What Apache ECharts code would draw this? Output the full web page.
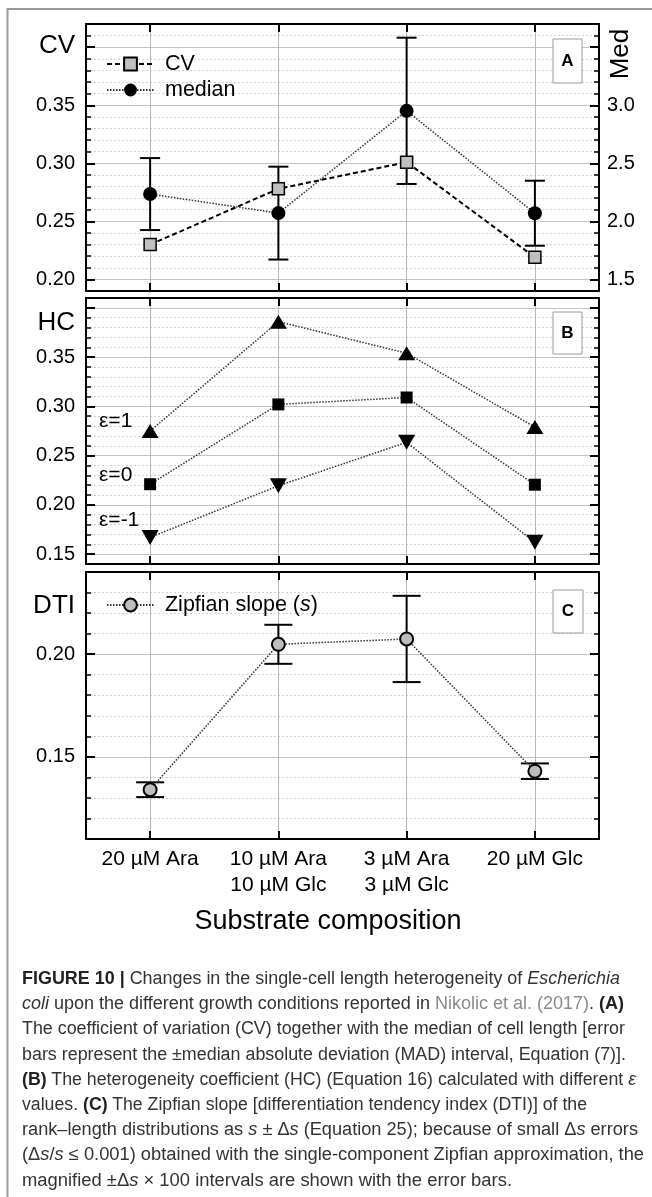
<!DOCTYPE html>
<html><head><meta charset="utf-8">
<script src="https://cdn.jsdelivr.net/npm/echarts@6/dist/echarts.min.js"></script>
<style>
html,body{margin:0;padding:0;background:#fff;}
#chart{position:absolute;left:0;top:0;width:652px;height:1197px;}
#caption{position:absolute;left:22px;top:966px;font-family:"Liberation Sans",Arial,sans-serif;font-size:18px;line-height:25.2px;color:#333;white-space:nowrap;}
#caption .l{width:max-content;transform-origin:0 50%;}
#caption b{color:#222;}
#caption .g{color:#8a8a8a;}
</style></head><body>
<div id="chart"></div>
<div id="caption">
<div class="l"><b>FIGURE 10 |</b> Changes in the single-cell length heterogeneity of <i>Escherichia</i></div>
<div class="l"><i>coli</i> upon the different growth conditions reported in <span class="g">Nikolic et al. (2017)</span>. <b>(A)</b></div>
<div class="l">The coefficient of variation (CV) together with the median of cell length [error</div>
<div class="l">bars represent the ±median absolute deviation (MAD) interval, Equation (7)].</div>
<div class="l"><b>(B)</b> The heterogeneity coefficient (HC) (Equation 16) calculated with different <i>ε</i></div>
<div class="l">values. <b>(C)</b> The Zipfian slope [differentiation tendency index (DTI)] of the</div>
<div class="l">rank–length distributions as <i>s</i> ± Δ<i>s</i> (Equation 25); because of small Δ<i>s</i> errors</div>
<div class="l">(Δ<i>s</i>/<i>s</i> ≤ 0.001) obtained with the single-component Zipfian approximation, the</div>
<div class="l">magnified ±Δ<i>s</i> × 100 intervals are shown with the error bars.</div>
</div>
<script>
// ---- data ----
const categories = ['20 µM Ara', '10 µM Ara\n10 µM Glc', '3 µM Ara\n3 µM Glc', '20 µM Glc'];
const cvValues = [0.230, 0.278, 0.301, 0.219];
const medianValues = [2.235, 2.071, 2.952, 2.070];
const medianMAD = [0.31, 0.40, 0.63, 0.28];
const hcEps1 = [0.275, 0.386, 0.354, 0.279];
const hcEps0 = [0.221, 0.302, 0.309, 0.2205];
const hcEpsM1 = [0.167, 0.2194, 0.2635, 0.162];
const zipfSlope = [0.134, 0.2048, 0.2074, 0.143];
const zipfErr = [0.0036, 0.0095, 0.021, 0.0038];
const cvTicks = [0.20, 0.25, 0.30, 0.35, 0.40];
const cvLabels = [0.20, 0.25, 0.30, 0.35];
const medTicks = [1.5, 2.0, 2.5, 3.0, 3.5];
const medLabels = [1.5, 2.0, 2.5, 3.0];
const hcTicks = [0.15, 0.20, 0.25, 0.30, 0.35, 0.40];
const hcLabels = [0.15, 0.20, 0.25, 0.30, 0.35];
const dtiTicks = [0.15, 0.20];

const FONT = '"Liberation Sans", Arial, sans-serif';
const catIdx = categories.map((c, i) => i);
const pairs = vals => vals.map((v, i) => [i, v]);
const errRows = (vals, errs) => vals.map((v, i) => [i, v - errs[i], v + errs[i]]);

function xAxisDef(g, pos, showLabels, split) {
  return {
    type: 'value', gridIndex: g, position: pos, min: -0.5, max: 3.5,
    axisLine: {show: true, onZero: false, lineStyle: {color: '#000', width: 2}},
    axisTick: {show: true, inside: true, length: 8, customValues: catIdx, lineStyle: {color: '#000', width: 2}},
    axisLabel: {show: showLabels, customValues: catIdx, formatter: v => categories[Math.round(v)],
      fontSize: 21, lineHeight: 26, color: '#000', margin: 7, fontFamily: FONT},
    splitLine: {show: split, lineStyle: {color: '#b8b8b8', width: 1}}
  };
}
function yMinor(g, pos, min, max, interval) {
  return {
    type: 'value', gridIndex: g, position: pos, min: min, max: max, interval: interval,
    axisLine: {show: false, onZero: false},
    axisTick: {show: true, inside: true, length: 5, lineStyle: {color: '#000', width: 1.5}},
    axisLabel: {show: false},
    splitLine: {show: pos === 'left', lineStyle: {color: '#d2d2d2', width: 1, type: [2, 2]}}
  };
}
function yMajor(g, pos, min, max, ticks, labels, digits) {
  return {
    type: 'value', gridIndex: g, position: pos, min: min, max: max,
    axisLine: {show: true, onZero: false, lineStyle: {color: '#000', width: 2}},
    axisTick: {show: true, inside: true, length: 9, customValues: ticks, lineStyle: {color: '#000', width: 2}},
    axisLabel: {show: !!labels, customValues: labels || ticks, formatter: v => v.toFixed(digits),
      fontSize: 20, color: '#000', margin: pos === 'left' ? 11 : 8, fontFamily: FONT},
    splitLine: {show: pos === 'left', lineStyle: {color: '#c4c4c4', width: 1.2}}
  };
}
function errSeries(name, xi, yi, rows, capW) {
  return {
    name: name, type: 'custom', xAxisIndex: xi, yAxisIndex: yi, z: 3,
    encode: {x: 0, y: [1, 2]}, data: rows,
    renderItem: function (params, api) {
      const x = api.value(0);
      const lo = api.coord([x, api.value(1)]);
      const hi = api.coord([x, api.value(2)]);
      const h = capW / 2;
      const st = {stroke: '#000', lineWidth: 2};
      return {type: 'group', children: [
        {type: 'line', shape: {x1: lo[0], y1: lo[1], x2: hi[0], y2: hi[1]}, style: st},
        {type: 'line', shape: {x1: lo[0] - h, y1: lo[1], x2: lo[0] + h, y2: lo[1]}, style: st},
        {type: 'line', shape: {x1: hi[0] - h, y1: hi[1], x2: hi[0] + h, y2: hi[1]}, style: st}
      ]};
    }
  };
}
const dotted = {color: '#333', width: 1.5, type: [1.5, 1.5]};

function boxLabel(letter, x, y, w, h) {
  return {type: 'group', z: 100, children: [
    {type: 'rect', z: 100, shape: {x: x, y: y, width: w, height: h}, style: {fill: '#fff', stroke: '#9a9a9a', lineWidth: 1}},
    {type: 'text', z: 101, x: x + w / 2, y: y + h / 2, style: {text: letter, fontSize: 17, fontWeight: 'bold',
      fontFamily: FONT, fill: '#000', align: 'center', verticalAlign: 'middle'}}
  ]};
}
function txt(t, x, y, size, align, extra) {
  return Object.assign({type: 'text', z: 50, x: x, y: y, style: {text: t, fontSize: size, fontFamily: FONT,
    fill: '#000', align: align, verticalAlign: 'middle'}}, extra || {});
}

const option = {
  animation: false,
  grid: [
    {left: 86, top: 24, width: 513, height: 267},
    {left: 86, top: 298, width: 513, height: 266},
    {left: 86, top: 572, width: 513, height: 267}
  ],
  xAxis: [
    xAxisDef(0, 'bottom', false, true),
    xAxisDef(1, 'bottom', false, true),
    xAxisDef(2, 'bottom', true, true),
    xAxisDef(0, 'top', false, false),
    xAxisDef(1, 'top', false, false),
    xAxisDef(2, 'top', false, false)
  ],
  yAxis: [
    yMinor(0, 'left', 0.19, 0.42, 0.01),
    yMinor(0, 'right', 1.4, 3.7, 0.1),
    yMinor(1, 'left', 0.14, 0.41, 0.01),
    yMinor(1, 'right', 0.14, 0.41, 0.01),
    yMinor(2, 'left', 0.11, 0.24, 0.01),
    yMinor(2, 'right', 0.11, 0.24, 0.01),
    yMajor(0, 'left', 0.19, 0.42, cvTicks, cvLabels, 2),
    yMajor(0, 'right', 1.4, 3.7, medTicks, medLabels, 1),
    yMajor(1, 'left', 0.14, 0.41, hcTicks, hcLabels, 2),
    yMajor(1, 'right', 0.14, 0.41, hcTicks, null, 2),
    yMajor(2, 'left', 0.11, 0.24, dtiTicks, dtiTicks, 2),
    yMajor(2, 'right', 0.11, 0.24, dtiTicks, null, 2)
  ],
  legend: [
    {data: ['CV', 'median'], left: 106, top: 51, orient: 'vertical', itemWidth: 47, itemHeight: 16,
      itemGap: 0, padding: 0, selectedMode: false, formatter: n => ' ' + n,
      textStyle: {fontSize: 21.5, lineHeight: 26, color: '#000', fontFamily: FONT}},
    {data: ['Zipfian slope'], left: 106, top: 592, orient: 'vertical', itemWidth: 47, itemHeight: 16,
      itemGap: 0, padding: 0, selectedMode: false, formatter: () => ' Zipfian slope ({i|s})',
      textStyle: {fontSize: 21.5, lineHeight: 26, color: '#000', fontFamily: FONT,
        rich: {i: {fontStyle: 'italic', fontSize: 21.5, lineHeight: 26, fontFamily: FONT, color: '#000'}}}}
  ],
  series: [
    errSeries('median MAD', 0, 7, errRows(medianValues, medianMAD), 20),
    {name: 'CV', type: 'line', xAxisIndex: 0, yAxisIndex: 6, z: 4, data: pairs(cvValues),
      symbol: 'rect', symbolSize: 12, itemStyle: {color: '#c0c0c0', borderColor: '#000', borderWidth: 1.5},
      lineStyle: {color: '#000', width: 2, type: [5, 3]}},
    {name: 'median', type: 'line', xAxisIndex: 0, yAxisIndex: 7, z: 5, data: pairs(medianValues),
      symbol: 'circle', symbolSize: 14, itemStyle: {color: '#000'}, lineStyle: dotted},
    {name: 'ε=1', type: 'line', xAxisIndex: 1, yAxisIndex: 8, z: 4, data: pairs(hcEps1),
      symbol: 'triangle', symbolSize: [17, 14], itemStyle: {color: '#000'}, lineStyle: dotted},
    {name: 'ε=0', type: 'line', xAxisIndex: 1, yAxisIndex: 8, z: 4, data: pairs(hcEps0),
      symbol: 'rect', symbolSize: 12, itemStyle: {color: '#000'}, lineStyle: dotted},
    {name: 'ε=-1', type: 'line', xAxisIndex: 1, yAxisIndex: 8, z: 4, data: pairs(hcEpsM1),
      symbol: 'triangle', symbolRotate: 180, symbolSize: [17, 15], itemStyle: {color: '#000'}, lineStyle: dotted},
    errSeries('Zipf error', 2, 10, errRows(zipfSlope, zipfErr), 28),
    {name: 'Zipfian slope', type: 'line', xAxisIndex: 2, yAxisIndex: 10, z: 4, data: pairs(zipfSlope),
      symbol: 'circle', symbolSize: 13, itemStyle: {color: '#bdbdbd', borderColor: '#000', borderWidth: 2},
      lineStyle: dotted}
  ],
  graphic: [
    {type: 'rect', silent: true, shape: {x: 7.5, y: 9, width: 800, height: 1400},
      style: {fill: 'none', stroke: '#9a9a9a', lineWidth: 2}},
    boxLabel('A', 553, 39, 29, 44),
    boxLabel('B', 553, 312, 29, 42),
    boxLabel('C', 553, 590, 30, 43),
    txt('CV', 75, 46, 26, 'right'),
    txt('HC', 75, 323, 26, 'right'),
    txt('DTI', 75, 606, 26, 'right'),
    txt('Med', 621, 54, 26, 'center', {rotation: Math.PI / 2}),
    txt('ε=1', 99, 421, 21, 'left'),
    txt('ε=0', 99, 475, 21, 'left'),
    txt('ε=-1', 99, 520, 21, 'left'),
    txt('Substrate composition', 328, 922, 27, 'center')
  ]
};
const chart = echarts.init(document.getElementById('chart'), null, {renderer: 'canvas'});
chart.setOption(option);

// fit each caption line to the line widths of the reference text block
const capWidths = [598, 602, 603, 604, 614, 565, 616, 622, 490];
document.querySelectorAll('#caption .l').forEach((el, i) => {
  const w = el.getBoundingClientRect().width;
  el.style.transform = 'scaleX(' + (capWidths[i] / w).toFixed(4) + ')';
});
</script>
</body></html>
